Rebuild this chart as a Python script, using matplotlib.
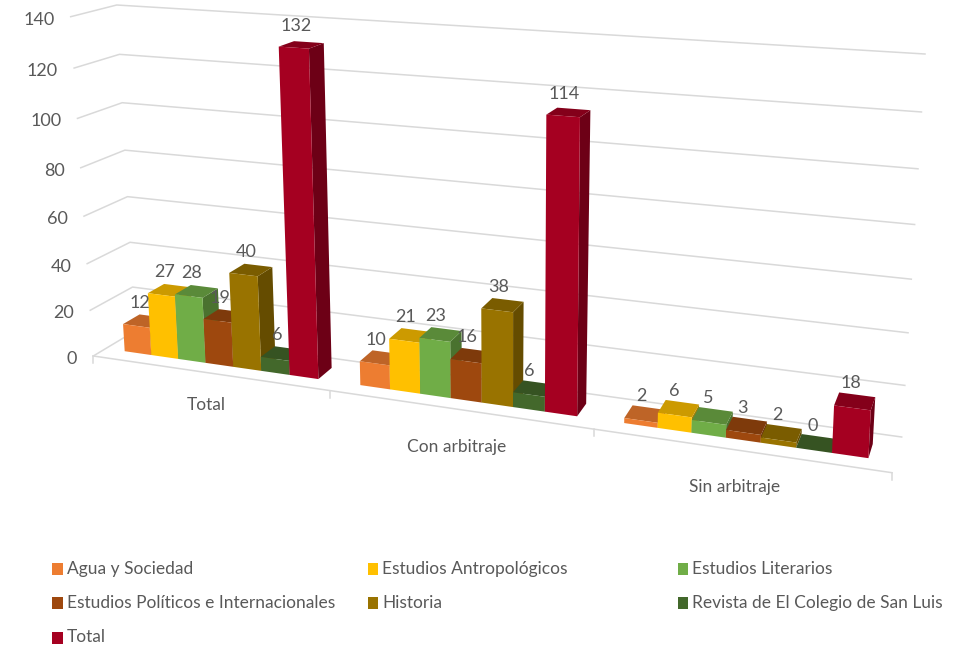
#!/usr/bin/ python
import numpy as np
import matplotlib
matplotlib.use('Agg')
import matplotlib.pyplot as plt
from matplotlib.patches import Polygon, Rectangle

plt.rcParams['font.family'] = ['Lato', 'DejaVu Sans']

categories = ['Total', 'Con arbitraje', 'Sin arbitraje']
agua = [12, 10, 2]
antropologicos = [27, 21, 6]
literarios = [28, 23, 5]
politicos = [19, 16, 3]
historia = [40, 38, 2]
revista = [6, 6, 0]
total = [132, 114, 18]
yticks = [0, 20, 40, 60, 80, 100, 120, 140]
names = ['Agua y Sociedad', 'Estudios Antropológicos', 'Estudios Literarios',
         'Estudios Políticos e Internacionales', 'Historia',
         'Revista de El Colegio de San Luis', 'Total']
series = [agua, antropologicos, literarios, politicos, historia, revista, total]
colors = ['#ED7D31', '#FFC000', '#70AD47', '#9E480E', '#997300', '#43682B', '#A50021']

# box corners in pixels, [front/back][left/right][bottom/top]
box = np.array([[[[93.3, 356.0], [70.7, 16.7]], [[892.0, 472.7], [911.0, 70.0]]],
                [[[135.0, 331.0], [116.7, 5.0]], [[901.7, 437.0], [925.0, 54.0]]]])
ymax = 140.
persp = 1.19
persp_y = 1.07
txt = '#595959'
grid = '#D9D9D9'


def project(u, v, val):
    # u along categories, v depth, val in data units -> pixels
    t = u/(u+persp*(1-u))
    w = val/ymax
    w = w/(w+persp_y*(1-w))
    p = 0
    for i, a in enumerate([1-v, v]):
        for j, b in enumerate([1-t, t]):
            for k, c in enumerate([1-w, w]):
                p = p+a*b*c*box[i, j, k]
    return p


def shade(col, f):
    return np.array(matplotlib.colors.to_rgb(col))*f


def draw_bar(ax, u0, u1, val, col, v0=0.3, v1=0.7):
    side = [project(u1, v0, 0), project(u1, v1, 0), project(u1, v1, val), project(u1, v0, val)]
    top = [project(u0, v0, val), project(u1, v0, val), project(u1, v1, val), project(u0, v1, val)]
    front = [project(u0, v0, 0), project(u1, v0, 0), project(u1, v0, val), project(u0, v0, val)]
    ax.add_patch(Polygon(side, fc=shade(col, 0.66), ec='none', zorder=3))
    ax.add_patch(Polygon(top, fc=shade(col, 0.8), ec='none', zorder=3))
    ax.add_patch(Polygon(front, fc=col, ec='none', zorder=3))


fig = plt.figure(figsize=(9.69, 6.46), dpi=100)
ax = fig.add_axes([0, 0, 1, 1])
ax.set_xlim(0, 969)
ax.set_ylim(646, 0)
ax.axis('off')

# walls
for y in yticks:
    pts = np.array([project(0, 0, y), project(0, 1, y), project(1, 1, y)])
    ax.plot(pts[:, 0], pts[:, 1], color=grid, lw=1.1, zorder=1)
    ax.text(pts[0, 0]-16, pts[0, 1]+3, str(y), ha='right', va='center',
            fontsize=13, color=txt, zorder=5)

# floor front edge and its ticks
pts = np.array([project(0, 0, 0), project(1, 0, 0)])
ax.plot(pts[:, 0], pts[:, 1], color=grid, lw=1.1, zorder=1)
for i in range(len(categories)+1):
    p = project(i/len(categories), 0, 0)
    ax.plot([p[0], p[0]], [p[1], p[1]+7], color=grid, lw=1.1, zorder=1)

# bars
ncat = len(categories)
nser = len(series)
margin = 0.085
for i in range(ncat):
    bw = (1-2*margin)/nser/ncat
    start = (i+margin)/ncat
    for s in range(nser):
        draw_bar(ax, start+s*bw, start+(s+1)*bw, series[s][i], colors[s])
for i in range(ncat):
    start = (i+margin)/ncat
    for s in range(nser):
        p = project(start+(s+0.5)*bw, 0.45, series[s][i])
        ax.text(p[0]-3, p[1]-19.5, str(series[s][i]), ha='center', va='center',
                fontsize=13, color=txt, zorder=6)

# category labels
label_pos = [(206.7, 405), (456.7, 447), (735, 487)]
for c, pos in zip(categories, label_pos):
    ax.text(pos[0], pos[1], c, ha='center', va='center', fontsize=12.5, color=txt)

# legend
legend_x = [52.5, 368, 678, 52.5, 368, 678, 52.5]
legend_y = [569, 569, 569, 603, 603, 603, 637.5]
for n, c, x, y in zip(names, colors, legend_x, legend_y):
    ax.add_patch(Rectangle((x, y-6), 10.5, 12, fc=c, ec='none'))
    ax.text(x+14.5, y, n, ha='left', va='center', fontsize=12.5, color=txt)

fig.savefig('out.png', dpi=100)
